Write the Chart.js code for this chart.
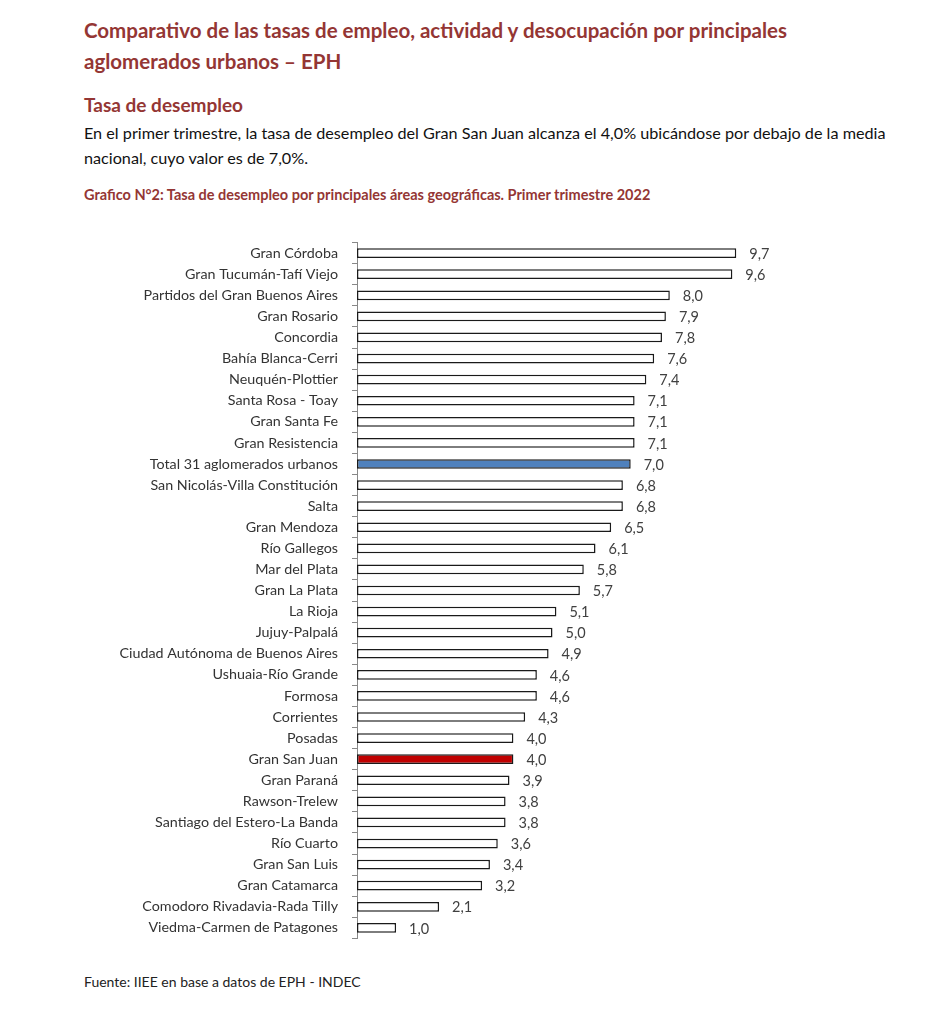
<!DOCTYPE html>
<html>
<head>
<meta charset="utf-8">
<script src="https://cdn.jsdelivr.net/npm/chart.js@4"></script>
<style>
  body { margin: 0; background: #fff; font-family: Lato, "Open Sans", sans-serif; }
  .page { position: relative; width: 944px; height: 1024px; overflow: hidden; }
  .titulo { position: absolute; left: 84px; top: 15px; width: 760px; font-size: 20.5px; font-weight: bold; color: #943634; line-height: 31px; }
  .subtitulo { position: absolute; left: 84px; top: 93px; font-size: 19px; font-weight: bold; color: #943634; }
  .texto { position: absolute; left: 84px; top: 120px; width: 810px; font-size: 16.2px; color: #111; line-height: 25px; }
  .grafico { position: absolute; left: 84px; top: 186px; font-size: 14.5px; font-weight: bold; color: #943634; }
  .fuente { position: absolute; left: 84px; top: 973px; font-size: 14px; color: #222; }
  .chart-box { position: absolute; left: 0; top: 220px; width: 944px; height: 741px; }
</style>
</head>
<body>
<div class="page">
  <div class="titulo">Comparativo de las tasas de empleo, actividad y desocupación por principales aglomerados urbanos – EPH</div>
  <div class="subtitulo">Tasa de desempleo</div>
  <div class="texto">En el primer trimestre, la tasa de desempleo del Gran San Juan alcanza el 4,0% ubicándose por debajo de la media nacional, cuyo valor es de 7,0%.</div>
  <div class="grafico">Grafico N°2: Tasa de desempleo por principales áreas geográficas. Primer trimestre 2022</div>
  <div class="chart-box"><canvas id="desempleoChart"></canvas></div>
  <div class="fuente">Fuente: IIEE en base a datos de EPH - INDEC</div>
</div>
<script>
// aglomerados y tasas de desempleo (%)
const aglomerados = [
    'Gran Córdoba', 'Gran Tucumán-Tafí Viejo', 'Partidos del Gran Buenos Aires', 'Gran Rosario',
    'Concordia', 'Bahía Blanca-Cerri', 'Neuquén-Plottier', 'Santa Rosa - Toay', 'Gran Santa Fe',
    'Gran Resistencia', 'Total 31 aglomerados urbanos', 'San Nicolás-Villa Constitución', 'Salta',
    'Gran Mendoza', 'Río Gallegos', 'Mar del Plata', 'Gran La Plata', 'La Rioja', 'Jujuy-Palpalá',
    'Ciudad Autónoma de Buenos Aires', 'Ushuaia-Río Grande', 'Formosa', 'Corrientes', 'Posadas',
    'Gran San Juan', 'Gran Paraná', 'Rawson-Trelew', 'Santiago del Estero-La Banda', 'Río Cuarto',
    'Gran San Luis', 'Gran Catamarca', 'Comodoro Rivadavia-Rada Tilly', 'Viedma-Carmen de Patagones'
];
const tasas = [
    9.7, 9.6, 8.0, 7.9, 7.8, 7.6, 7.4, 7.1, 7.1, 7.1, 7.0, 6.8, 6.8, 6.5, 6.1, 5.8, 5.7,
    5.1, 5.0, 4.9, 4.6, 4.6, 4.3, 4.0, 4.0, 3.9, 3.8, 3.8, 3.6, 3.4, 3.2, 2.1, 1.0
];
const ejeMax = 10;

// colores: total nacional en azul, San Juan en rojo
function colorBarra(nombre) {
    if (nombre === 'Total 31 aglomerados urbanos') return '#4f81bd';
    if (nombre === 'Gran San Juan') return '#c00000';
    return '#ffffff';
}

// etiquetas de valor al final de cada barra
const etiquetasValor = {
    id: 'etiquetasValor',
    afterDatasetsDraw(chart) {
        const ctx = chart.ctx;
        const meta = chart.getDatasetMeta(0);
        ctx.save();
        ctx.font = '14.5px Lato, "Open Sans", sans-serif';
        ctx.fillStyle = '#404040';
        ctx.textBaseline = 'middle';
        ctx.textAlign = 'left';
        meta.data.forEach((bar, i) => {
            ctx.fillText(tasas[i].toFixed(1).replace('.', ','), bar.x + 13, bar.y + 1);
        });
        ctx.restore();
    }
};

document.addEventListener('DOMContentLoaded', function() {
    const ctx = document.getElementById('desempleoChart').getContext('2d');
    new Chart(ctx, {
        type: 'bar',
        data: {
            labels: aglomerados,
            datasets: [{
                data: tasas,
                backgroundColor: aglomerados.map(colorBarra),
                borderColor: '#1a1a1a',
                borderWidth: 1.5,
                borderSkipped: false,
                categoryPercentage: 1,
                barPercentage: 0.46
            }]
        },
        options: {
            indexAxis: 'y',
            responsive: true,
            maintainAspectRatio: false,
            animation: false,
            layout: { padding: { top: 10, bottom: 13, right: 196, left: 0 } },
            plugins: {
                legend: { display: false },
                tooltip: { enabled: false }
            },
            scales: {
                x: {
                    display: false,
                    min: 0,
                    max: ejeMax
                },
                y: {
                    afterFit: function(scale) { scale.width = 357; },
                    border: { color: '#888', width: 1 },
                    grid: {
                        offset: true,
                        drawOnChartArea: false,
                        drawTicks: true,
                        tickLength: 5,
                        color: '#888'
                    },
                    ticks: {
                        color: '#333',
                        padding: 14,
                        autoSkip: false,
                        font: { family: 'Lato, "Open Sans", sans-serif', size: 14.3 }
                    }
                }
            }
        },
        plugins: [etiquetasValor]
    });
});
</script>
</body>
</html>
